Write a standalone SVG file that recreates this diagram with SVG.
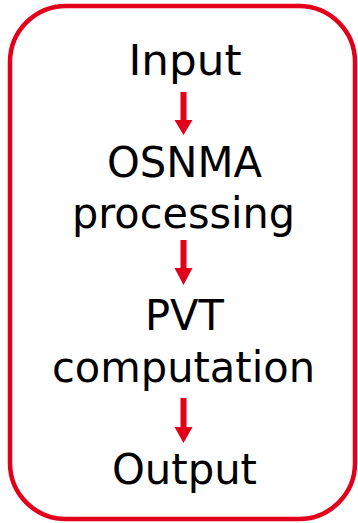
<svg xmlns="http://www.w3.org/2000/svg" width="358" height="523" viewBox="0 0 358 523">
<style>
.t{font-family:"DejaVu Sans",Verdana,sans-serif;font-size:42.5px;fill:#000;text-anchor:middle}
.a{fill:#e2001a}
</style>
<rect x="0" y="0" width="358" height="523" fill="#fff"/>
<g id="frame"><rect x="10" y="6" width="345" height="513" rx="56" ry="56" fill="none" stroke="#e2001a" stroke-width="4.5"/></g>
<g id="input"><text class="t" x="185" y="75" textLength="113" lengthAdjust="spacingAndGlyphs">Input</text></g>
<g id="osnma"><text class="t" x="184.5" y="177" textLength="155" lengthAdjust="spacingAndGlyphs">OSNMA</text><text class="t" x="183.5" y="228" textLength="223" lengthAdjust="spacingAndGlyphs">processing</text></g>
<g id="pvt"><text class="t" x="184.5" y="330" textLength="79" lengthAdjust="spacingAndGlyphs">PVT</text><text class="t" x="183.5" y="382" textLength="263" lengthAdjust="spacingAndGlyphs">computation</text></g>
<g id="output"><text class="t" x="184.5" y="484" textLength="145" lengthAdjust="spacingAndGlyphs">Output</text></g>
<g id="connectors">
<path class="a" d="M180.5 92h6v28h6l-9 15l-9-15h6z"/>
<path class="a" d="M180.5 240h6v28h6l-9 17l-9-17h6z"/>
<path class="a" d="M180.5 398h6v29h6l-9 16l-9-16h6z"/>
</g>
</svg>
